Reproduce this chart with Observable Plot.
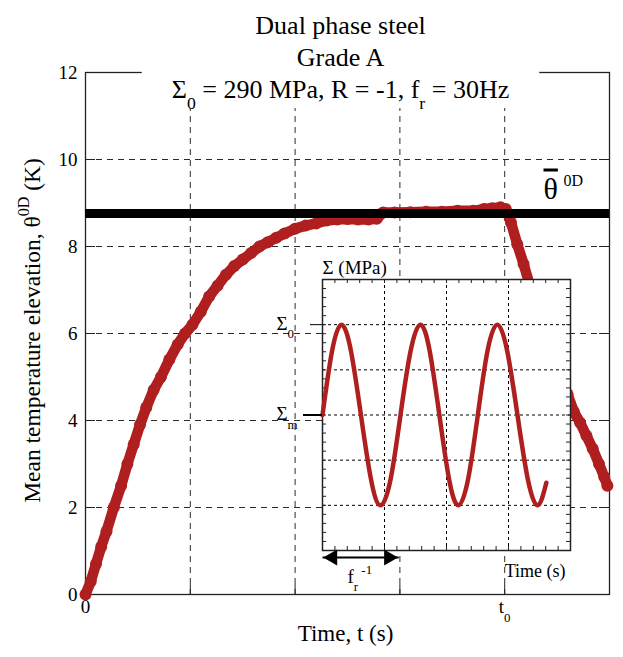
<!DOCTYPE html>
<html>
<head>
<meta charset="utf-8">
<script src="https://cdn.jsdelivr.net/npm/d3@7"></script>
<script src="https://cdn.jsdelivr.net/npm/@observablehq/plot@0.6"></script>
<style>
  html, body { margin: 0; padding: 0; background: #fff; }
  #chart { position: relative; width: 623px; height: 657px; }
  #chart svg { position: absolute; }
  #chart svg text { font-family: "Liberation Serif", "Times New Roman", serif !important; }
</style>
</head>
<body>
<div id="chart"></div>
<script>
// ---- Text ----
const titleLines = ["Dual phase steel", "Grade A", "Σ_{0} = 290 MPa, R = -1, f_{r} = 30Hz"];
const yLabel = "Mean temperature elevation, θ^{0D} (K)";
const xLabel = "Time, t (s)";
const meanSymbol = "~{θ}";
const meanSup = "0D";

// ---- Main axes ----
const yTicks = [0, 2, 4, 6, 8, 10, 12];
const yGrid = [2, 4, 6, 8, 10];
const xGrid = [1, 2, 3, 4];
const xTickValues = [0, 4];
const xTickText = ["0", "t_{0}"];

// ---- Mean temperature elevation vs time ----
const curveT = [0, 0.05, 0.1, 0.15, 0.2, 0.27, 0.34, 0.4, 0.46, 0.52, 0.58, 0.65, 0.72, 0.8, 0.88, 0.95,
  1.02, 1.1, 1.18, 1.26, 1.34, 1.42, 1.5, 1.58, 1.66, 1.74, 1.82, 1.9, 2.0, 2.1, 2.2, 2.3, 2.4, 2.5,
  2.6, 2.7, 2.78, 2.84, 2.95, 3.1, 3.25, 3.4, 3.55, 3.7, 3.8, 3.88, 3.96, 4.01, 4.06, 4.12, 4.18,
  4.24, 4.32, 4.4, 4.5, 4.6, 4.66, 4.72, 4.78, 4.84, 4.9, 4.95, 4.98];
const curveTheta = [0, 0.3, 0.7, 1.1, 1.45, 2.0, 2.5, 3.0, 3.45, 3.9, 4.3, 4.7, 5.0, 5.4, 5.75, 6.0,
  6.2, 6.5, 6.85, 7.1, 7.35, 7.55, 7.7, 7.85, 8.0, 8.1, 8.2, 8.3, 8.41, 8.48, 8.53, 8.6, 8.62, 8.63,
  8.62, 8.62, 8.64, 8.78, 8.78, 8.79, 8.8, 8.8, 8.82, 8.82, 8.86, 8.88, 8.9, 8.86, 8.55, 8.05, 7.6,
  7.1, 6.5, 5.95, 5.25, 4.6, 4.2, 3.95, 3.65, 3.35, 3.0, 2.7, 2.5];
const thetaMean = 8.76;

// ---- Inset: loading signal ----
const sigmaT = [0, 0.153, 0.306, 0.46, 0.62, 0.78, 0.935, 1.10, 1.258, 1.42, 1.58, 1.73, 1.885,
  2.04, 2.19, 2.35, 2.505, 2.66, 2.82, 2.98, 3.145, 3.31, 3.47, 3.61];
const sigmaS = [0, 1.41, 2, 1.41, 0, -1.41, -2, -1.41, 0, 1.41, 2, 1.41, 0, -1.41, -2, -1.41, 0,
  1.41, 2, 1.41, 0, -1.41, -2, -1.5];
const sigmaLevelNames = ["Σ_{0}", "Σ_{m}"];
const sigmaLevelValues = [2, 0];
const insetXGrid = [1, 2, 3];
const insetYGrid = [-2, -1, 0, 1, 2];
const periodSpan = [0, 1.23];
const insetYLabel = "Σ (MPa)";
const insetXLabel = "Time (s)";
const periodLabel = "f_{r}^{ -1}";

const red = "#b01f1f";
const font = '"Liberation Serif", "Times New Roman", serif';

const curve = curveT.map((t, i) => ({t, theta: curveTheta[i]}));
const sigma = sigmaT.map((t, i) => ({t, s: sigmaS[i]}));
const levels = sigmaLevelNames.map((name, i) => ({name, s: sigmaLevelValues[i]}));

// ---- Main chart ----
const W = 623, H = 657, mT = 72, mR = 14, mB = 63, mL = 85;
const fW = W - mL - mR, fH = H - mT - mB;
const gridStyle = {stroke: "#2a2a2a", strokeOpacity: 1, strokeWidth: 1, strokeDasharray: "6,5"};

const main = Plot.plot({
  width: W, height: H,
  marginTop: mT, marginRight: mR, marginBottom: mB, marginLeft: mL,
  x: {domain: [0, 5], axis: null},
  y: {domain: [0, 12], axis: null},
  style: {fontFamily: font, background: "white", overflow: "visible", color: "black"},
  marks: [
    Plot.gridX(xGrid, gridStyle),
    Plot.gridY(yGrid, gridStyle),
    Plot.tickX(xGrid, {insetTop: fH - 10, stroke: "#222"}),
    Plot.tickY(yGrid, {insetRight: fW - 10, stroke: "#222"}),
    Plot.tickY(yGrid, {insetLeft: fW - 10, stroke: "#222"}),
    Plot.frame({stroke: "#222", strokeWidth: 1.3}),
    Plot.line(curve, {x: "t", y: "theta", stroke: red, strokeWidth: 10.5, strokeLinecap: "round", strokeLinejoin: "round"}),
    Plot.dot(curve, {x: "t", y: "theta", r: 6, fill: red, stroke: null}),
    Plot.ruleY([thetaMean], {stroke: "black", strokeWidth: 9}),
    Plot.axisY(yTicks, {tickSize: 0, tickPadding: 8, fontSize: 19, label: null, fontFamily: font}),
    Plot.axisX(xTickValues, {tickSize: 0, tickPadding: 5, fontSize: 19, label: null, fontFamily: font,
      tickFormat: d => xTickText[xTickValues.indexOf(d)]}),
    Plot.text([meanSymbol], {text: d => d, frameAnchor: "top-right", dx: -66, dy: 126, textAnchor: "start", lineAnchor: "bottom", fontSize: 30, fontFamily: font}),
    Plot.text([meanSup], {text: d => d, frameAnchor: "top-right", dx: -46, dy: 113, textAnchor: "start", lineAnchor: "bottom", fontSize: 16, fontFamily: font}),
    Plot.text([yLabel], {text: d => d, frameAnchor: "left", rotate: -90, dx: -53, dy: -3, textAnchor: "middle", fontSize: 23.5, fontFamily: font}),
    Plot.text([xLabel], {text: d => d, frameAnchor: "bottom", dx: -2, dy: 46, textAnchor: "middle", fontSize: 23, fontFamily: font}),
    ...titleLines.map((line, i) =>
      Plot.text([line], {text: d => d, frameAnchor: "top", dx: -7, dy: -39 + 32 * i, textAnchor: "middle", lineAnchor: "bottom", fontSize: 26, fontFamily: font}))
  ]
});

// ---- Inset chart ----
const iL = 262, iT = 250, iW = 323, iH = 345, imT = 29, imR = 15, imB = 45, imL = 60;
const ifW = iW - imL - imR, ifH = iH - imT - imB;
const minorX = d3.range(0, 4.0001, 0.2);
const minorY = d3.range(-3, 3.0001, 0.2);
const dotted = {stroke: "black", strokeOpacity: 1, strokeWidth: 1, strokeDasharray: "3,3"};

const inset = Plot.plot({
  width: iW, height: iH,
  marginTop: imT, marginRight: imR, marginBottom: imB, marginLeft: imL,
  x: {domain: [0, 4], axis: null},
  y: {domain: [-3, 3], axis: null},
  style: {fontFamily: font, background: "transparent", overflow: "visible", color: "black"},
  marks: [
    Plot.frame({fill: "white", stroke: "none"}),
    Plot.gridX(insetXGrid, dotted),
    Plot.gridY(insetYGrid, dotted),
    Plot.tickX(minorX, {insetTop: ifH - 4, stroke: "#222"}),
    Plot.tickX(minorX, {insetBottom: ifH - 4, stroke: "#222"}),
    Plot.tickY(minorY, {insetRight: ifW - 4, stroke: "#222"}),
    Plot.tickY(minorY, {insetLeft: ifW - 4, stroke: "#222"}),
    Plot.frame({stroke: "#222", strokeWidth: 1.5}),
    Plot.line(sigma, {x: "t", y: "s", curve: "natural", stroke: red, strokeWidth: 4.5, strokeLinecap: "round"}),
    Plot.tickY([sigmaLevelValues[0]], {insetLeft: -12, insetRight: ifW, stroke: "black", strokeWidth: 1}),
    Plot.tickY([sigmaLevelValues[1]], {insetLeft: -19, insetRight: ifW, stroke: "black", strokeWidth: 2}),
    Plot.text(levels, {x: () => 0, y: "s", text: "name", dx: -46, dy: 5, textAnchor: "start", lineAnchor: "bottom", fontSize: 19, fontFamily: font}),
    Plot.text([insetYLabel], {text: d => d, frameAnchor: "top-left", dy: -6, textAnchor: "start", lineAnchor: "bottom", fontSize: 19, fontFamily: font}),
    Plot.text([insetXLabel], {text: d => d, frameAnchor: "bottom-right", dx: -5, dy: 26, textAnchor: "end", lineAnchor: "bottom", fontSize: 18, fontFamily: font}),
    Plot.text([periodLabel], {text: d => d, frameAnchor: "bottom-left", dx: 25, dy: 32, textAnchor: "start", lineAnchor: "bottom", fontSize: 19, fontFamily: font}),
    Plot.link([periodSpan], {x1: d => d[0], x2: d => d[1], y1: () => -3, y2: () => -3, dy: 7, stroke: "black", strokeWidth: 2}),
    Plot.dot([periodSpan[0]], {x: d => d, y: () => -3, dy: 7, dx: 10, symbol: "triangle", r: 6, rotate: -90, fill: "black", stroke: null}),
    Plot.dot([periodSpan[1]], {x: d => d, y: () => -3, dy: 7, dx: -10, symbol: "triangle", r: 6, rotate: 90, fill: "black", stroke: null})
  ]
});

const chart = document.getElementById("chart");
main.style.left = "0px"; main.style.top = "0px";
inset.style.left = iL + "px"; inset.style.top = iT + "px";
chart.appendChild(main);
chart.appendChild(inset);

// Turn _{..} subscripts, ^{..} superscripts and ~{..} overlines into tspans.
function richText(svg) {
  const NS = "http://www.w3.org/2000/svg";
  svg.querySelectorAll("text").forEach(el => {
    const s = el.textContent;
    if (!/[_^~]\{/.test(s)) return;
    const fs = parseFloat(getComputedStyle(el).fontSize);
    while (el.firstChild) el.removeChild(el.firstChild);
    const re = /([_^~])\{([^}]*)\}|([^_^~]+)/g;
    let m, shift = 0;
    while ((m = re.exec(s))) {
      const t = document.createElementNS(NS, "tspan");
      let target = 0;
      if (m[1] === "_" || m[1] === "^") {
        target = (m[1] === "_" ? 0.45 : -0.45) * fs;
        t.setAttribute("font-size", (0.68 * fs).toFixed(1));
        t.textContent = m[2];
      } else if (m[1] === "~") {
        t.textContent = m[2];
        t.setAttribute("text-decoration", "overline");
      } else {
        t.textContent = m[3];
      }
      if (target !== shift) t.setAttribute("dy", (target - shift).toFixed(1));
      shift = target;
      el.appendChild(t);
    }
  });
}
richText(main);
richText(inset);

// White box behind the loading-condition line of the title.
main.querySelectorAll("text").forEach(el => {
  if (!el.textContent.includes("MPa")) return;
  const bb = el.getBoundingClientRect();
  const box = main.getBoundingClientRect();
  const r = document.createElementNS("http://www.w3.org/2000/svg", "rect");
  r.setAttribute("x", bb.left - box.left - 30);
  r.setAttribute("y", 66);
  r.setAttribute("width", bb.width + 60);
  r.setAttribute("height", 42);
  r.setAttribute("fill", "white");
  let g = el;
  while (g.parentNode !== main) g = g.parentNode;
  main.insertBefore(r, g);
});
</script>
</body>
</html>
